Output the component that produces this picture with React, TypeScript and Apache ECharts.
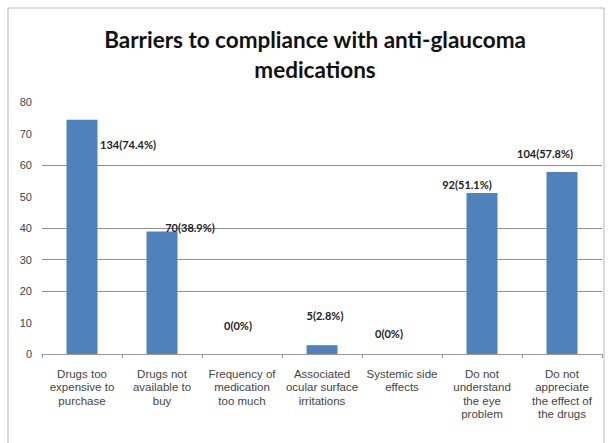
import React, { useEffect, useRef } from "react";
import * as echarts from "echarts";

const titleText = "Barriers to compliance with anti-glaucoma\nmedications";
const categories = [
  "Drugs too\nexpensive to\npurchase",
  "Drugs not\navailable to\nbuy",
  "Frequency of\nmedication\ntoo much",
  "Associated\nocular surface\nirritations",
  "Systemic side\neffects",
  "Do not\nunderstand\nthe eye\nproblem",
  "Do not\nappreciate\nthe effect of\nthe drugs",
];
const percentValues = [74.4, 38.9, 0, 2.8, 0, 51.1, 57.8];
const dataLabels = ["134(74.4%)", "70(38.9%)", "0(0%)", "5(2.8%)", "0(0%)", "92(51.1%)", "104(57.8%)"];
const yTicks = { min: 0, max: 80, interval: 10 };
// label placement offsets (styling only)
const labelOffsets: [number, number][] = [
  [46, 35],
  [28, 7],
  [-4, -18],
  [3, -19],
  [-13, -10],
  [-15, 2],
  [-17, -8],
];
// gridline visibility per tick (styling only), from 0 to 80
const gridColors = ["rgba(0,0,0,0)", "rgba(0,0,0,0)", "#8f8f8f", "#8f8f8f", "#8f8f8f", "rgba(0,0,0,0)", "#8f8f8f", "rgba(0,0,0,0)", "rgba(0,0,0,0)"];

export default function App() {
  const ref = useRef<HTMLDivElement>(null);
  useEffect(() => {
    if (!ref.current) return;
    const chart = echarts.init(ref.current, null, { renderer: "svg" });
    chart.setOption({
      animation: false,
      backgroundColor: "#ffffff",
      title: {
        text: titleText,
        left: 310,
        textAlign: "center",
        top: 19,
        textStyle: {
          fontFamily: "Lato",
          fontWeight: "bold",
          fontSize: 22.5,
          lineHeight: 30,
          color: "#111",
        },
      },
      graphic: [
        {
          type: "rect",
          shape: { x: 8, y: 8, width: 596, height: 440 },
          style: { fill: "none", stroke: "#b8b8b8", lineWidth: 1 },
          silent: true,
        },
      ],
      grid: { left: 42, right: 6, top: 102, bottom: 89, containLabel: false },
      xAxis: {
        type: "category",
        data: categories,
        axisLine: { show: true, lineStyle: { color: "#9a9a9a", width: 1 } },
        axisTick: { show: true, alignWithLabel: false, length: 4, lineStyle: { color: "#9a9a9a" } },
        axisLabel: {
          interval: 0,
          margin: 13,
          fontFamily: "Liberation Sans",
          fontSize: 11.5,
          lineHeight: 13.5,
          color: "#444",
          align: "center",
        },
      },
      yAxis: {
        type: "value",
        min: yTicks.min,
        max: yTicks.max,
        interval: yTicks.interval,
        axisLine: { show: false },
        axisTick: { show: false },
        axisLabel: { margin: 10, fontFamily: "Liberation Sans", fontSize: 11, color: "#444" },
        splitLine: { show: true, lineStyle: { color: gridColors, width: 1 } },
      },
      series: [
        {
          type: "bar",
          barWidth: 31,
          itemStyle: { color: "#4F81BD" },
          data: percentValues.map((v, i) => ({
            value: v,
            label: {
              show: true,
              position: "top",
              distance: 5,
              offset: labelOffsets[i],
              formatter: dataLabels[i],
              fontFamily: "Lato",
              fontWeight: "bold",
              fontSize: 11,
              color: "#222",
            },
          })),
        },
      ],
    });
    return () => chart.dispose();
  }, []);
  return <div ref={ref} style={{ position: "absolute", left: 0, top: 0, width: 608, height: 443 }} />;
}
